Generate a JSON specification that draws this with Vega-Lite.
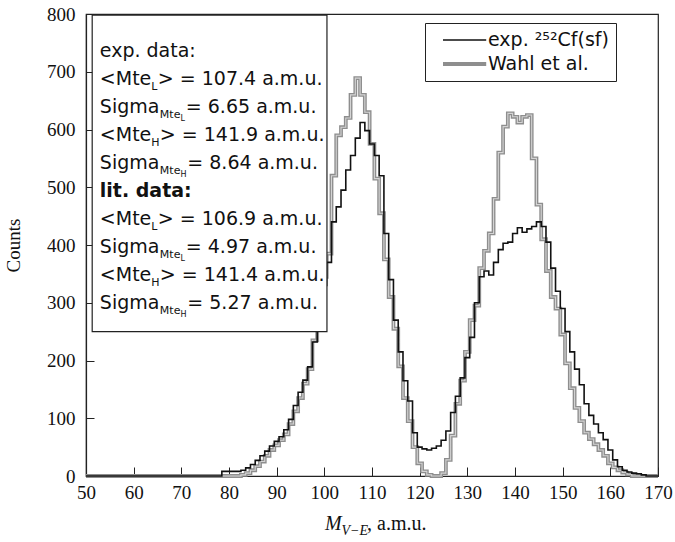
{
  "$schema": "https://vega.github.io/schema/vega-lite/v6.json",
  "width": 572,
  "height": 462,
  "autosize": {"type": "none"},
  "padding": {"left": 86, "top": 14, "right": 17, "bottom": 66},
  "background": "white",
  "config": {
    "view": {"stroke": "#222", "strokeWidth": 1.2},
    "axis": {"domainColor": "#222", "domainWidth": 1.2, "tickColor": "#222", "tickWidth": 1, "labelColor": "#111", "titleColor": "#111", "labelFont": "Liberation Serif", "titleFont": "Liberation Serif", "labelFontSize": 19, "titleFontSize": 19, "titleFontWeight": "normal", "grid": false, "labelFlush": false, "labelOverlap": false}
  },
  "datasets": {
    "hist": [
      {"m":50,"exp":0,"wahl":0},{"m":51,"exp":0,"wahl":0},{"m":52,"exp":0,"wahl":0},{"m":53,"exp":0,"wahl":0},{"m":54,"exp":0,"wahl":0},{"m":55,"exp":0,"wahl":0},{"m":56,"exp":0,"wahl":0},{"m":57,"exp":0,"wahl":0},{"m":58,"exp":0,"wahl":0},{"m":59,"exp":0,"wahl":0},
      {"m":60,"exp":0,"wahl":0},{"m":61,"exp":0,"wahl":0},{"m":62,"exp":0,"wahl":0},{"m":63,"exp":0,"wahl":0},{"m":64,"exp":0,"wahl":0},{"m":65,"exp":0,"wahl":0},{"m":66,"exp":0,"wahl":0},{"m":67,"exp":0,"wahl":0},{"m":68,"exp":0,"wahl":0},{"m":69,"exp":0,"wahl":0},
      {"m":70,"exp":0,"wahl":0},{"m":71,"exp":0,"wahl":0},{"m":72,"exp":0,"wahl":0},{"m":73,"exp":0,"wahl":0},{"m":74,"exp":0,"wahl":0},{"m":75,"exp":0,"wahl":0},{"m":76,"exp":0,"wahl":0},{"m":77,"exp":0,"wahl":0},{"m":78,"exp":0,"wahl":0},{"m":79,"exp":8,"wahl":0},
      {"m":80,"exp":8,"wahl":0},{"m":81,"exp":8,"wahl":0},{"m":82,"exp":8,"wahl":0},{"m":83,"exp":10,"wahl":2},{"m":84,"exp":14,"wahl":5},{"m":85,"exp":20,"wahl":10},{"m":86,"exp":27,"wahl":17},{"m":87,"exp":35,"wahl":25},{"m":88,"exp":43,"wahl":35},{"m":89,"exp":52,"wahl":45},
      {"m":90,"exp":60,"wahl":53},{"m":91,"exp":68,"wahl":62},{"m":92,"exp":80,"wahl":72},{"m":93,"exp":98,"wahl":90},{"m":94,"exp":122,"wahl":112},{"m":95,"exp":145,"wahl":135},{"m":96,"exp":166,"wahl":160},{"m":97,"exp":189,"wahl":185},{"m":98,"exp":232,"wahl":235},{"m":99,"exp":280,"wahl":290},
      {"m":100,"exp":330,"wahl":345},{"m":101,"exp":370,"wahl":385},{"m":102,"exp":440,"wahl":520},{"m":103,"exp":466,"wahl":590},{"m":104,"exp":495,"wahl":604},{"m":105,"exp":530,"wahl":620},{"m":106,"exp":555,"wahl":660},{"m":107,"exp":585,"wahl":689},{"m":108,"exp":612,"wahl":660},{"m":109,"exp":598,"wahl":630},
      {"m":110,"exp":575,"wahl":575},{"m":111,"exp":555,"wahl":515},{"m":112,"exp":520,"wahl":455},{"m":113,"exp":420,"wahl":375},{"m":114,"exp":340,"wahl":310},{"m":115,"exp":270,"wahl":255},{"m":116,"exp":215,"wahl":190},{"m":117,"exp":165,"wahl":135},{"m":118,"exp":130,"wahl":95},{"m":119,"exp":75,"wahl":50},
      {"m":120,"exp":50,"wahl":22},{"m":121,"exp":47,"wahl":8},{"m":122,"exp":45,"wahl":2},{"m":123,"exp":48,"wahl":0},{"m":124,"exp":52,"wahl":0},{"m":125,"exp":62,"wahl":5},{"m":126,"exp":78,"wahl":28},{"m":127,"exp":110,"wahl":70},{"m":128,"exp":138,"wahl":125},{"m":129,"exp":170,"wahl":165},
      {"m":130,"exp":205,"wahl":215},{"m":131,"exp":240,"wahl":270},{"m":132,"exp":300,"wahl":295},{"m":133,"exp":345,"wahl":360},{"m":134,"exp":355,"wahl":390},{"m":135,"exp":348,"wahl":420},{"m":136,"exp":370,"wahl":480},{"m":137,"exp":392,"wahl":560},{"m":138,"exp":403,"wahl":605},{"m":139,"exp":405,"wahl":628},
      {"m":140,"exp":420,"wahl":622},{"m":141,"exp":430,"wahl":612},{"m":142,"exp":422,"wahl":622},{"m":143,"exp":428,"wahl":625},{"m":144,"exp":432,"wahl":550},{"m":145,"exp":440,"wahl":470},{"m":146,"exp":432,"wahl":410},{"m":147,"exp":405,"wahl":355},{"m":148,"exp":360,"wahl":310},{"m":149,"exp":320,"wahl":290},
      {"m":150,"exp":290,"wahl":245},{"m":151,"exp":250,"wahl":195},{"m":152,"exp":215,"wahl":152},{"m":153,"exp":185,"wahl":118},{"m":154,"exp":158,"wahl":95},{"m":155,"exp":125,"wahl":75},{"m":156,"exp":105,"wahl":64},{"m":157,"exp":90,"wahl":55},{"m":158,"exp":75,"wahl":45},{"m":159,"exp":63,"wahl":35},
      {"m":160,"exp":45,"wahl":22},{"m":161,"exp":28,"wahl":15},{"m":162,"exp":16,"wahl":10},{"m":163,"exp":10,"wahl":6},{"m":164,"exp":7,"wahl":3},{"m":165,"exp":5,"wahl":0},{"m":166,"exp":4,"wahl":0},{"m":167,"exp":2,"wahl":0},{"m":168,"exp":0,"wahl":0},{"m":169,"exp":0,"wahl":0},
      {"m":170,"exp":0,"wahl":0}
    ],
    "box": [
      {"i":0,"head":"exp. data:","sub":"","subsub":"","tail":"","kind":"title"},
      {"i":1,"head":"<Mte","sub":"L","subsub":"","tail":"> = 107.4 a.m.u.","kind":"mean"},
      {"i":2,"head":"Sigma","sub":"Mte","subsub":"L","tail":"= 6.65 a.m.u.","kind":"sigma"},
      {"i":3,"head":"<Mte","sub":"H","subsub":"","tail":"> = 141.9 a.m.u.","kind":"mean"},
      {"i":4,"head":"Sigma","sub":"Mte","subsub":"H","tail":"= 8.64 a.m.u.","kind":"sigma"},
      {"i":5,"head":"lit. data:","sub":"","subsub":"","tail":"","kind":"lit"},
      {"i":6,"head":"<Mte","sub":"L","subsub":"","tail":"> = 106.9 a.m.u.","kind":"mean"},
      {"i":7,"head":"Sigma","sub":"Mte","subsub":"L","tail":"= 4.97 a.m.u.","kind":"sigma"},
      {"i":8,"head":"<Mte","sub":"H","subsub":"","tail":"> = 141.4 a.m.u.","kind":"mean"},
      {"i":9,"head":"Sigma","sub":"Mte","subsub":"H","tail":"= 5.27 a.m.u.","kind":"sigma"}
    ],
    "xtitle": [{"a":"M","b":"V−E","c":", a.m.u."}],
    "frame": [{"name":"stats box"}]
  },
  "layer": [
    {
      "data": {"name": "hist"},
      "layer": [
        {
          "mark": {"type": "line", "interpolate": "step", "strokeJoin": "miter"},
          "encoding": {
            "x": {"field": "m", "type": "quantitative", "scale": {"domain": [50, 170], "nice": false},
              "axis": {"orient": "bottom", "title": null, "labels": false, "tickSize": -4.5, "labelOverlap": false,
                "values": [50,51,52,53,54,55,56,57,58,59,60,61,62,63,64,65,66,67,68,69,70,71,72,73,74,75,76,77,78,79,80,81,82,83,84,85,86,87,88,89,90,91,92,93,94,95,96,97,98,99,100,101,102,103,104,105,106,107,108,109,110,111,112,113,114,115,116,117,118,119,120,121,122,123,124,125,126,127,128,129,130,131,132,133,134,135,136,137,138,139,140,141,142,143,144,145,146,147,148,149,150,151,152,153,154,155,156,157,158,159,160,161,162,163,164,165,166,167,168,169,170]}},
            "y": {"field": "wahl", "type": "quantitative", "scale": {"domain": [0, 800], "nice": false},
              "axis": {"orient": "left", "title": null, "labels": false, "tickSize": -5, "labelOverlap": false,
                "values": [0,50,100,150,200,250,300,350,400,450,500,550,600,650,700,750,800]}},
            "color": {"datum": "Wahl et al.", "type": "nominal",
              "scale": {"domain": ["exp. ²⁵²Cf(sf)", "Wahl et al."], "range": ["#111111", "#8e8e8e"]},
              "legend": {"title": null, "orient": "none", "legendX": 339, "legendY": 9, "symbolType": "M0,0L4.8,0", "symbolSize": 324, "labelFont": "DejaVu Sans", "labelFontSize": 19, "labelColor": "#111", "strokeColor": "#222", "fillColor": "white", "padding": 7, "rowPadding": 3, "labelOffset": 34}},
            "strokeWidth": {"datum": "Wahl et al.", "type": "nominal",
              "scale": {"domain": ["exp. ²⁵²Cf(sf)", "Wahl et al."], "range": [1.6, 3.8]},
              "legend": {"title": null, "orient": "none", "legendX": 339, "legendY": 9, "symbolType": "M0,0L4.8,0", "symbolSize": 324, "labelFont": "DejaVu Sans", "labelFontSize": 19, "labelColor": "#111", "strokeColor": "#222", "fillColor": "white", "padding": 7, "rowPadding": 3, "labelOffset": 34}}
          }
        },
        {
          "mark": {"type": "line", "interpolate": "step", "strokeJoin": "miter", "color": "#d4d4d4", "strokeWidth": 1.1},
          "encoding": {
            "x": {"field": "m", "type": "quantitative", "axis": null},
            "y": {"field": "wahl", "type": "quantitative", "axis": null}
          }
        },
        {
          "mark": {"type": "line", "interpolate": "step", "strokeJoin": "miter"},
          "encoding": {
            "x": {"field": "m", "type": "quantitative", "axis": null},
            "y": {"field": "exp", "type": "quantitative", "axis": null},
            "color": {"datum": "exp. ²⁵²Cf(sf)", "type": "nominal"},
            "strokeWidth": {"datum": "exp. ²⁵²Cf(sf)", "type": "nominal"}
          }
        },
        {
          "data": {"name": "frame"},
          "mark": {"type": "rect", "fill": "white", "stroke": "#222", "strokeWidth": 1.2},
          "encoding": {
            "x": {"datum": 51.3, "type": "quantitative", "axis": null},
            "x2": {"datum": 100.55},
            "y": {"datum": 798, "type": "quantitative", "axis": null, "scale": {"domain": [0, 800], "nice": false}},
            "y2": {"datum": 250}
          }
        },
        {
          "data": {"name": "xtitle"},
          "mark": {"type": "text", "align": "left", "baseline": "alphabetic", "font": "Liberation Serif", "fontStyle": "italic", "fontSize": 20, "color": "#111"},
          "encoding": {
            "x": {"datum": 100.14, "type": "quantitative", "axis": null},
            "y": {"datum": -93.5, "type": "quantitative", "axis": null, "scale": {"domain": [0, 800], "nice": false}},
            "text": {"field": "a"}
          }
        },
        {
          "data": {"name": "xtitle"},
          "mark": {"type": "text", "align": "left", "baseline": "alphabetic", "font": "Liberation Serif", "fontStyle": "italic", "fontSize": 14, "dx": 16.5, "dy": 5, "color": "#111"},
          "encoding": {
            "x": {"datum": 100.14, "type": "quantitative", "axis": null},
            "y": {"datum": -93.5, "type": "quantitative", "axis": null, "scale": {"domain": [0, 800], "nice": false}},
            "text": {"field": "b"}
          }
        },
        {
          "data": {"name": "xtitle"},
          "mark": {"type": "text", "align": "left", "baseline": "alphabetic", "font": "Liberation Serif", "fontSize": 20, "dx": 42, "color": "#111"},
          "encoding": {
            "x": {"datum": 100.14, "type": "quantitative", "axis": null},
            "y": {"datum": -93.5, "type": "quantitative", "axis": null, "scale": {"domain": [0, 800], "nice": false}},
            "text": {"field": "c"}
          }
        }
      ]
    },
    {
      "data": {"name": "box"},
      "encoding": {
        "x": {"datum": 52.9, "type": "quantitative", "axis": null},
        "y": {"field": "i", "type": "quantitative", "scale": {"domain": [-1.55, 15.0], "reverse": true, "nice": false, "zero": false}, "axis": null}
      },
      "layer": [
        {"transform": [{"filter": "datum.kind !== 'lit'"}],
         "mark": {"type": "text", "align": "left", "baseline": "alphabetic", "font": "DejaVu Sans", "fontSize": 19, "color": "#111"},
         "encoding": {"text": {"field": "head"}}},
        {"transform": [{"filter": "datum.kind === 'lit'"}],
         "mark": {"type": "text", "align": "left", "baseline": "alphabetic", "font": "DejaVu Sans", "fontSize": 19, "fontWeight": "bold", "color": "#111"},
         "encoding": {"text": {"field": "head"}}},
        {"transform": [{"filter": "datum.kind === 'mean'"}],
         "mark": {"type": "text", "align": "left", "baseline": "alphabetic", "font": "DejaVu Sans", "fontSize": 11, "dx": 51.5, "dy": 5, "color": "#111"},
         "encoding": {"text": {"field": "sub"}}},
        {"transform": [{"filter": "datum.kind === 'mean' && datum.sub === 'L'"}],
         "mark": {"type": "text", "align": "left", "baseline": "alphabetic", "font": "DejaVu Sans", "fontSize": 19, "dx": 58, "color": "#111"},
         "encoding": {"text": {"field": "tail"}}},
        {"transform": [{"filter": "datum.kind === 'mean' && datum.sub === 'H'"}],
         "mark": {"type": "text", "align": "left", "baseline": "alphabetic", "font": "DejaVu Sans", "fontSize": 19, "dx": 60, "color": "#111"},
         "encoding": {"text": {"field": "tail"}}},
        {"transform": [{"filter": "datum.kind === 'sigma'"}],
         "mark": {"type": "text", "align": "left", "baseline": "alphabetic", "font": "DejaVu Sans", "fontSize": 11, "dx": 60, "dy": 5, "color": "#111"},
         "encoding": {"text": {"field": "sub"}}},
        {"transform": [{"filter": "datum.kind === 'sigma'"}],
         "mark": {"type": "text", "align": "left", "baseline": "alphabetic", "font": "DejaVu Sans", "fontSize": 8, "dx": 80.8, "dy": 8, "color": "#111"},
         "encoding": {"text": {"field": "subsub"}}},
        {"transform": [{"filter": "datum.kind === 'sigma' && datum.subsub === 'L'"}],
         "mark": {"type": "text", "align": "left", "baseline": "alphabetic", "font": "DejaVu Sans", "fontSize": 19, "dx": 86, "color": "#111"},
         "encoding": {"text": {"field": "tail"}}},
        {"transform": [{"filter": "datum.kind === 'sigma' && datum.subsub === 'H'"}],
         "mark": {"type": "text", "align": "left", "baseline": "alphabetic", "font": "DejaVu Sans", "fontSize": 19, "dx": 87.5, "color": "#111"},
         "encoding": {"text": {"field": "tail"}}}
      ]
    },
    {
      "data": {"name": "frame"},
      "mark": {"type": "point", "opacity": 0},
      "encoding": {
        "x": {"datum": 50, "type": "quantitative",
          "axis": {"orient": "bottom", "title": null, "values": [50,60,70,80,90,100,110,120,130,140,150,160,170], "tickSize": -9, "labelPadding": 16, "labelOverlap": false}},
        "y": {"datum": 0, "type": "quantitative", "scale": {"domain": [0, 800], "nice": false},
          "axis": {"orient": "left", "title": "Counts", "values": [0,100,200,300,400,500,600,700,800], "tickSize": -8, "labelPadding": 19, "titlePadding": 23, "labelOverlap": false}}
      }
    }
  ],
  "resolve": {"scale": {"y": "independent"}, "axis": {"x": "independent", "y": "independent"}}
}
